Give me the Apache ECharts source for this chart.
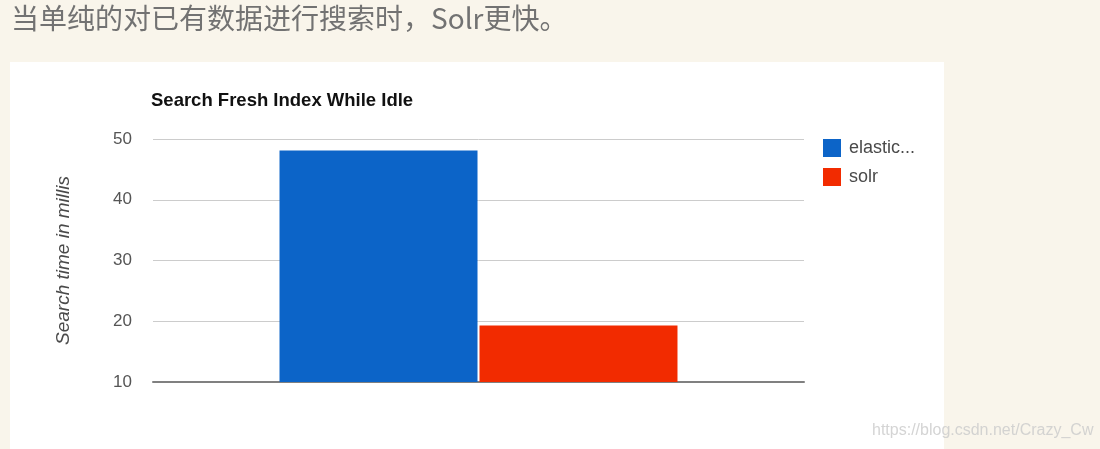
<!DOCTYPE html>
<html>
<head>
<meta charset="utf-8">
<script src="https://cdn.jsdelivr.net/npm/echarts@6/dist/echarts.min.js"></script>
<style>
html,body{margin:0;padding:0;background:#f9f5eb;}
#chart{width:1100px;height:449px;}
</style>
</head>
<body>
<div id="chart"></div>
<script>
const categories = [''];
const seriesNames = ['elasticsearch', 'solr'];
const elasticValues = [48.1];
const solrValues = [19.3];
const yTicks = [10, 20, 30, 40, 50];

const chart = echarts.init(document.getElementById('chart'));
chart.setOption({
  backgroundColor: '#f9f5eb',
  animation: false,
  graphic: [
    { type: 'rect', z: -10, shape: { x: 10, y: 62, width: 934, height: 400 }, style: { fill: '#ffffff' } },
    { type: 'text', x: 11, y: 18, style: { text: '当单纯的对已有数据进行搜索时，Solr更快。', font: '28px "Noto Sans CJK SC", sans-serif', fill: '#727272', verticalAlign: 'middle' } },
    { type: 'text', x: 872, y: 431, style: { text: 'https://blog.csdn.net/Crazy_Cw', font: '16px "Liberation Sans", Arial, sans-serif', fill: 'rgba(205,205,205,0.85)', verticalAlign: 'middle' } }
  ],
  title: {
    text: 'Search Fresh Index While Idle',
    left: 151, top: 91, padding: 0,
    textStyle: { fontFamily: '"Liberation Sans", Arial, sans-serif', fontSize: 18.5, fontWeight: 'bold', color: '#111' }
  },
  legend: {
    orient: 'vertical', left: 823, top: 139, padding: 0,
    itemWidth: 18, itemHeight: 18, itemGap: 11,
    icon: 'rect',
    data: seriesNames,
    textStyle: { fontFamily: '"Liberation Sans", Arial, sans-serif', fontSize: 18, color: '#4a4a4a', width: 72, overflow: 'truncate', ellipsis: '...', padding: [0,0,0,3] }
  },
  grid: { left: 153, right: 296, top: 139, bottom: 67 },
  xAxis: {
    type: 'category', data: categories,
    axisTick: { show: false }, axisLabel: { show: false },
    axisLine: { lineStyle: { color: '#808080', width: 2 } }
  },
  yAxis: {
    type: 'value', min: yTicks[0], max: yTicks[yTicks.length-1], interval: 10,
    name: 'Search time in millis', nameLocation: 'middle', nameGap: 80,
    nameTextStyle: { fontFamily: '"Liberation Sans", Arial, sans-serif', fontSize: 19, fontStyle: 'italic', color: '#4a4a4a' },
    axisLine: { show: false }, axisTick: { show: false },
    axisLabel: { margin: 21, fontFamily: '"Liberation Sans", Arial, sans-serif', fontSize: 17, color: '#555555' },
    splitLine: { lineStyle: { color: '#cccccc', width: 1 } }
  },
  series: [
    { name: seriesNames[0], type: 'bar', data: elasticValues, barWidth: 198, barGap: '1%', itemStyle: { color: '#0c64c8' } },
    { name: seriesNames[1], type: 'bar', data: solrValues, barWidth: 198, itemStyle: { color: '#f22b00' } }
  ]
});
</script>
</body>
</html>
